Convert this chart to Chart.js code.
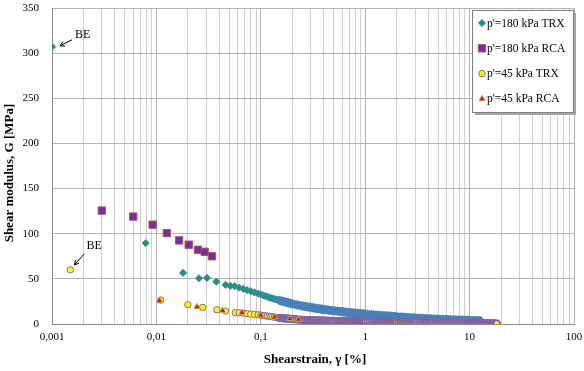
<!DOCTYPE html>
<html>
<head>
<meta charset="utf-8">
<script src="https://cdn.jsdelivr.net/npm/chart.js@4.4.1/dist/chart.umd.min.js"></script>
<style>
  html, body { margin: 0; padding: 0; background: #fff; }
  #wrap { width: 584px; height: 371px; }
</style>
</head>
<body>
<div id="wrap"><canvas id="chart" width="584" height="371"></canvas></div>
<script>
// Shear modulus G [MPa] vs shear strain [%]

// p'=180 kPa TRX (first point = bender element)
const trx180X = [0.001, 0.0079, 0.018, 0.0256, 0.0305, 0.0375, 0.046, 0.051, 0.056,
  0.062, 0.068, 0.074, 0.080, 0.087, 0.094, 0.10, 0.105, 0.11, 0.115, 0.12, 0.125, 0.13, 0.135, 0.14, 0.145,
  0.15, 0.155, 0.16, 0.165, 0.17, 0.175, 0.18, 0.185, 0.19, 0.195, 0.20, 0.21, 0.22, 0.23, 0.24, 0.25, 0.26,
  0.27, 0.28, 0.29, 0.30, 0.31, 0.32, 0.33, 0.34, 0.35, 0.36, 0.37, 0.38, 0.39, 0.40, 0.415, 0.43, 0.445, 0.46,
  0.48, 0.50, 0.52, 0.54, 0.56, 0.58, 0.60, 0.62, 0.64, 0.66, 0.68, 0.70, 0.725, 0.75, 0.775, 0.80, 0.825, 0.85,
  0.875, 0.90, 0.925, 0.95, 0.975, 1.0, 1.05, 1.1, 1.15, 1.2, 1.25, 1.3, 1.35, 1.4, 1.45, 1.5, 1.55, 1.6, 1.65,
  1.7, 1.75, 1.8, 1.85, 1.9, 1.95, 2.0, 2.1, 2.2, 2.3, 2.4, 2.5, 2.6, 2.7, 2.8, 2.9, 3.0, 3.15, 3.3, 3.45, 3.6,
  3.75, 3.9, 4.05, 4.2, 4.35, 4.5, 4.7, 4.9, 5.1, 5.3, 5.5, 5.7, 5.9, 6.1, 6.3, 6.5, 6.75, 7.0, 7.25, 7.5, 7.75,
  8.0, 8.3, 8.6, 8.9, 9.2, 9.5, 9.8, 10.1, 10.5, 10.8, 11.2, 11.6, 12, 12.4, 12.8];
const trx180G = [307, 89.6, 56.6, 50.7, 51, 47, 43.3, 42.2, 41.9,
  40.3, 39, 37.5, 36.3, 35, 33.8, 32.7, 31.8, 31, 30.2, 29.4, 28.8, 28.2, 27.7, 27.2, 26.7,
  26.2, 25.7, 25.3, 24.9, 24.5, 24.1, 23.8, 23.4, 23, 22.6, 22.3, 21.7, 21.2, 20.8, 20.4, 20.0, 19.6,
  19.3, 19.0, 18.7, 18.4, 18.1, 17.8, 17.5, 17.3, 17.1, 16.9, 16.7, 16.5, 16.3, 16.1, 15.8, 15.6, 15.4, 15.2,
  14.9, 14.7, 14.4, 14.2, 14.0, 13.8, 13.6, 13.4, 13.2, 13.0, 12.85, 12.7, 12.5, 12.3, 12.15, 12.0, 11.85, 11.7,
  11.55, 11.4, 11.3, 11.2, 11.1, 11.0, 10.75, 10.5, 10.3, 10.1, 9.9, 9.7, 9.55, 9.4, 9.25, 9.1, 9.0, 8.9, 8.75,
  8.6, 8.5, 8.4, 8.3, 8.2, 8.1, 8.0, 7.85, 7.7, 7.55, 7.4, 7.25, 7.1, 7.0, 6.9, 6.8, 6.7, 6.55, 6.4, 6.3, 6.2,
  6.05, 5.9, 5.8, 5.7, 5.6, 5.5, 5.4, 5.3, 5.25, 5.2, 5.1, 5.0, 4.9, 4.8, 4.75, 4.7, 4.6, 4.5, 4.45, 4.4, 4.35,
  4.3, 4.25, 4.2, 4.1, 4.0, 3.95, 3.9, 3.85, 3.8, 3.75, 3.7, 3.65, 3.6, 3.55, 3.5];

// p'=180 kPa RCA
const rca180X = [0.003, 0.006, 0.0092, 0.0126, 0.0165, 0.0204, 0.025, 0.029, 0.034];
const rca180G = [125.6, 119, 110, 100.6, 92.6, 87.8, 82.2, 80, 75];

// p'=45 kPa TRX (first point = bender element)
const trx45X = [0.0015, 0.011, 0.02, 0.0277, 0.038, 0.046, 0.057,
  0.062, 0.068, 0.074, 0.080, 0.087, 0.094, 0.10, 0.105, 0.11, 0.115, 0.12, 0.125, 0.13, 0.135, 0.14, 0.145,
  0.15, 0.155, 0.16, 0.165, 0.17, 0.175, 0.18, 0.185, 0.19, 0.195, 0.20, 0.21, 0.22, 0.23, 0.24, 0.25, 0.26,
  0.27, 0.28, 0.29, 0.30, 0.31, 0.32, 0.33, 0.34, 0.35, 0.36, 0.37, 0.38, 0.39, 0.40, 0.415, 0.43, 0.445, 0.46,
  0.48, 0.50, 0.52, 0.54, 0.56, 0.58, 0.60, 0.62, 0.64, 0.66, 0.68, 0.70, 0.725, 0.75, 0.775, 0.80, 0.825, 0.85,
  0.875, 0.90, 0.925, 0.95, 0.975, 1.0, 1.05, 1.1, 1.15, 1.2, 1.25, 1.3, 1.35, 1.4, 1.45, 1.5, 1.55, 1.6, 1.65,
  1.7, 1.75, 1.8, 1.85, 1.9, 1.95, 2.0, 2.1, 2.2, 2.3, 2.4, 2.5, 2.6, 2.7, 2.8, 2.9, 3.0, 3.15, 3.3, 3.45, 3.6,
  3.75, 3.9, 4.05, 4.2, 4.35, 4.5, 4.7, 4.9, 5.1, 5.3, 5.5, 5.7, 5.9, 6.1, 6.3, 6.5, 6.75, 7.0, 7.25, 7.5, 7.75,
  8.0, 8.3, 8.6, 8.9, 9.2, 9.5, 9.8, 10.1, 10.5, 10.8, 11.2, 11.6, 12, 12.4, 12.8, 13.2, 13.6, 14.0, 14.5, 14.9,
  15.4, 15.8, 16.3, 16.7, 17.2, 17.7, 18.2];
const trx45G = [60, 26.5, 21.3, 18.3, 15.8, 14.3, 12.5,
  12.4, 12.0, 11.5, 10.9, 10.5, 10.2, 9.8, 9.45, 9.1, 8.8, 8.5, 8.2, 7.9, 7.6, 7.3, 7.05,
  6.8, 6.6, 6.4, 6.3, 6.2, 6.1, 6.0, 5.9, 5.8, 5.65, 5.5, 5.3, 5.1, 4.9, 4.7, 4.6, 4.5,
  4.45, 4.4, 4.3, 4.2, 4.15, 4.1, 4.05, 4.0, 3.95, 3.9, 3.85, 3.8, 3.75, 3.7, 3.65, 3.6, 3.55, 3.5,
  3.45, 3.4, 3.35, 3.3, 3.25, 3.2, 3.15, 3.1, 3.05, 3.0, 3.0, 3.0, 2.95, 2.9, 2.9, 2.9, 2.85, 2.8,
  2.8, 2.8, 2.75, 2.7, 2.7, 2.7, 2.65, 2.6, 2.55, 2.5, 2.45, 2.4, 2.4, 2.4, 2.35, 2.3, 2.3, 2.3, 2.25,
  2.2, 2.2, 2.2, 2.15, 2.1, 2.1, 2.1, 2.05, 2.0, 2.0, 2.0, 1.95, 1.9, 1.9, 1.9, 1.85, 1.8, 1.8, 1.8, 1.75, 1.7,
  1.7, 1.7, 1.65, 1.6, 1.6, 1.6, 1.55, 1.5, 1.5, 1.5, 1.45, 1.4, 1.4, 1.4, 1.35, 1.3, 1.3, 1.3, 1.25, 1.2, 1.2,
  1.2, 1.15, 1.1, 1.1, 1.1, 1.05, 1.0, 1.0, 1.0, 0.95, 0.9, 0.9, 0.9, 0.85, 0.8, 0.8, 0.8, 0.75, 0.7, 0.7,
  0.7, 0.65, 0.6, 0.6, 0.6, 0.55, 0.5];

// p'=45 kPa RCA
const rca45X = [0.0107, 0.0245, 0.043, 0.066, 0.10, 0.135, 0.19, 0.23];
const rca45G = [25.7, 19, 14.7, 12.5, 9.6, 7.5, 5.8, 5.0];

const seriesLabels = ["p'=180 kPa TRX", "p'=180 kPa RCA", "p'=45 kPa TRX", "p'=45 kPa RCA"];
const xMajor = [0.001, 0.01, 0.1, 1, 10, 100];
const xTickLabels = ['0,001', '0,01', '0,1', '1', '10', '100'];
const yTicks = [0, 50, 100, 150, 200, 250, 300, 350];

const FONT = "'Liberation Serif', 'Times New Roman', serif";

function toPoints(xs, ys) {
  return xs.map((x, i) => ({ x: x, y: ys[i] }));
}

// styles per series (marker, fill, border); dense = border width where markers pile up
const styles = [
  { pointStyle: 'rectRot', radius: 3.6, bg: '#1a9a6a', border: '#4a80b8', bw: 1, dense: 1.8 },
  { pointStyle: 'rect', radius: 5.2, bg: '#7030a0', border: '#c0504d', bw: 1, dense: 1 },
  { pointStyle: 'circle', radius: 3.2, bg: '#ffff00', border: '#8064a2', bw: 1, dense: 1.8 },
  { pointStyle: 'triangle', radius: 3.6, bg: '#ff0000', border: '#9bbb59', bw: 1, dense: 1 }
];

const rawData = [
  toPoints(trx180X, trx180G),
  toPoints(rca180X, rca180G),
  toPoints(trx45X, trx45G),
  toPoints(rca45X, rca45G)
];

const datasets = rawData.map((pts, i) => ({
  label: seriesLabels[i],
  data: pts,
  showLine: false,
  pointStyle: styles[i].pointStyle,
  pointRadius: styles[i].radius,
  pointBackgroundColor: styles[i].bg,
  pointBorderColor: styles[i].border,
  pointBorderWidth: c => (c.raw && c.raw.x >= 0.15 ? styles[i].dense : styles[i].bw),
  order: 3 - i   // later series drawn on top, like the original
}));

// legend box, axis titles and the "BE" call-outs
const extras = {
  id: 'extras',
  afterDraw(chart) {
    const ctx = chart.ctx;
    const area = chart.chartArea;
    const xs = chart.scales.x, ys = chart.scales.y;
    ctx.save();

    // axis titles
    ctx.fillStyle = '#000';
    ctx.font = 'bold 13px ' + FONT;
    ctx.textAlign = 'center';
    ctx.textBaseline = 'middle';
    ctx.fillText('Shearstrain, \u03b3 [%]', (area.left + area.right) / 2 + 2, 360);
    ctx.save();
    ctx.translate(10, 173);
    ctx.rotate(-Math.PI / 2);
    ctx.fillText('Shear modulus, G [MPa]', 0, 0);
    ctx.restore();

    // BE annotations, placed relative to the bender element points
    const be = [
      { px: xs.getPixelForValue(trx180X[0]), py: ys.getPixelForValue(trx180G[0]), tx: 23, ty: -12, a0: [20, -7], a1: [8, -1] },
      { px: xs.getPixelForValue(trx45X[0]), py: ys.getPixelForValue(trx45G[0]), tx: 16, ty: -24, a0: [14, -16], a1: [4, -5] }
    ];
    ctx.font = '12px ' + FONT;
    ctx.textAlign = 'left';
    ctx.strokeStyle = '#000';
    ctx.lineWidth = 1;
    be.forEach(b => {
      ctx.fillText('BE', b.px + b.tx, b.py + b.ty);
      const x0 = b.px + b.a0[0], y0 = b.py + b.a0[1];
      const x1 = b.px + b.a1[0], y1 = b.py + b.a1[1];
      const ang = Math.atan2(y1 - y0, x1 - x0);
      ctx.beginPath();
      ctx.moveTo(x0, y0);
      ctx.lineTo(x1, y1);
      ctx.moveTo(x1 - 5 * Math.cos(ang - 0.5), y1 - 5 * Math.sin(ang - 0.5));
      ctx.lineTo(x1, y1);
      ctx.lineTo(x1 - 5 * Math.cos(ang + 0.5), y1 - 5 * Math.sin(ang + 0.5));
      ctx.stroke();
    });

    // legend
    const lx = 472, ly = 10, lw = 101, lh = 102;
    ctx.fillStyle = '#a6a6a6';
    ctx.fillRect(lx + 3, ly + 3, lw, lh);
    ctx.fillStyle = '#fff';
    ctx.fillRect(lx, ly, lw, lh);
    ctx.strokeStyle = '#7f7f7f';
    ctx.strokeRect(lx + 0.5, ly + 0.5, lw, lh);
    ctx.font = '11.5px ' + FONT;
    ctx.textBaseline = 'middle';
    seriesLabels.forEach((lab, i) => {
      const y = ly + 13 + i * 25.3;
      const s = styles[i];
      ctx.fillStyle = s.bg;
      ctx.strokeStyle = s.border;
      ctx.lineWidth = s.bw;
      Chart.helpers.drawPoint(ctx, { pointStyle: s.pointStyle, radius: s.radius, rotation: 0, borderWidth: s.bw }, lx + 10, y);
      ctx.fillStyle = '#000';
      ctx.fillText(lab, lx + 15, y + 0.5);
    });
    ctx.restore();
  }
};

new Chart(document.getElementById('chart'), {
  type: 'scatter',
  data: { datasets: datasets },
  options: {
    responsive: false,
    animation: false,
    events: [],
    layout: { padding: { left: 0, top: 8, right: 10, bottom: 0 } },
    plugins: {
      legend: { display: false },
      tooltip: { enabled: false }
    },
    scales: {
      x: {
        type: 'logarithmic',
        min: 0.001,
        max: 100,
        afterBuildTicks(scale) {
          const t = [];
          for (let k = -3; k <= 1; k++) {
            for (let m = 1; m <= 9; m++) t.push({ value: +(m + 'e' + k) });
          }
          t.push({ value: 100 });
          scale.ticks = t;
        },
        afterFit(scale) {
          scale.height = 47;
          scale.paddingLeft = 0;
          scale.paddingRight = 0;
        },
        ticks: {
          autoSkip: false,
          maxRotation: 0,
          padding: 7,
          color: '#000',
          font: { family: FONT, size: 11 },
          callback(value) {
            const i = xMajor.indexOf(value);
            return i >= 0 ? xTickLabels[i] : '';
          }
        },
        grid: {
          drawTicks: false,
          color(c) {
            return xMajor.indexOf(c.tick.value) >= 0 ? '#b3b3b3' : '#cfcfcf';
          },
          lineWidth: 1
        },
        border: { color: '#8c8c8c' }
      },
      y: {
        min: 0,
        max: 350,
        afterBuildTicks(scale) {
          scale.ticks = yTicks.map(v => ({ value: v }));
        },
        afterFit(scale) {
          scale.width = 52;
          scale.paddingTop = 0;
          scale.paddingBottom = 0;
        },
        ticks: {
          padding: 13,
          color: '#000',
          font: { family: FONT, size: 11 }
        },
        grid: { drawTicks: false, color: '#b3b3b3', lineWidth: 1 },
        border: { color: '#8c8c8c' }
      }
    }
  },
  plugins: [extras]
});
</script>
</body>
</html>
